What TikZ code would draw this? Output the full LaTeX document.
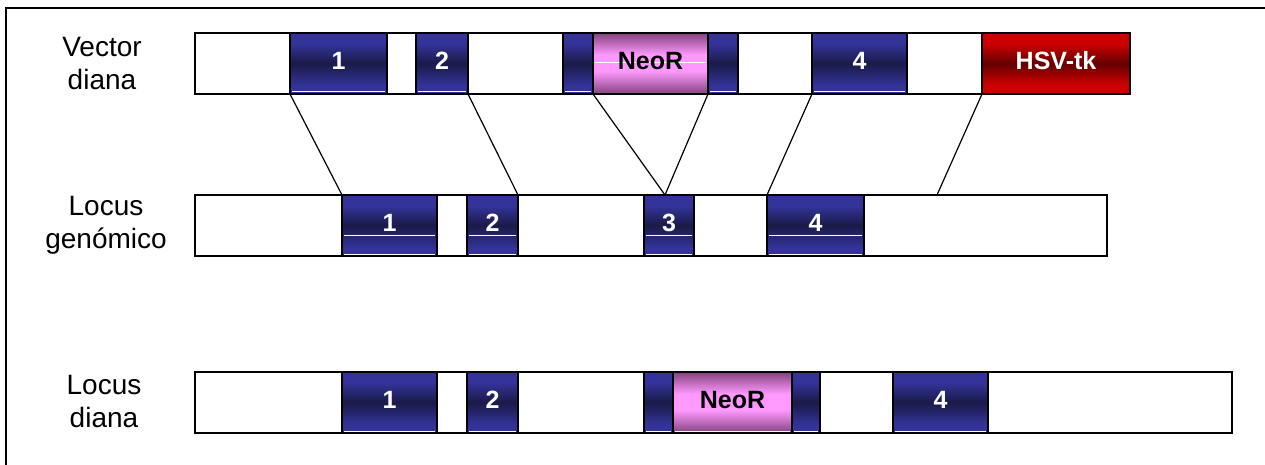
\documentclass[tikz,border=0pt]{standalone}
\usepackage{fontspec}
\setmainfont{Liberation Sans}
\definecolor{blueL}{RGB}{51,51,153}
\definecolor{blueD}{RGB}{26,26,72}
\definecolor{pinkL}{RGB}{255,153,255}
\definecolor{pinkD}{RGB}{132,66,126}
\definecolor{redL}{RGB}{204,0,0}
\definecolor{redD}{RGB}{100,0,0}
\pgfdeclareverticalshading{exonsh}{100bp}{color(0bp)=(blueL); color(25bp)=(blueL); color(32bp)=(blueL); color(50bp)=(blueD); color(66bp)=(blueL); color(75bp)=(blueL); color(100bp)=(blueL)}
\pgfdeclareverticalshading{neosh}{100bp}{color(0bp)=(pinkD); color(25bp)=(pinkD); color(44bp)=(pinkL); color(57bp)=(pinkL); color(75bp)=(pinkD); color(100bp)=(pinkD)}
\pgfdeclareverticalshading{hsvsh}{100bp}{color(0bp)=(redL); color(25bp)=(redL); color(33bp)=(redL); color(50bp)=(redD); color(66bp)=(redL); color(75bp)=(redL); color(100bp)=(redL)}
\tikzset{
  seg/.style={draw=black, line width=1.5pt, inner sep=0pt, outer sep=0pt,
    minimum height=61pt, anchor=north west, text depth=6pt,
    font=\fontsize{25}{25}\selectfont\bfseries},
  back/.style={seg, fill=white},
  exon/.style={seg, shade, shading=exonsh, text=white},
  neo/.style={seg, shade, shading=neosh, text=black},
  hsv/.style={seg, shade, shading=hsvsh, text=white},
  hl/.style={white, line width=1pt},
  midline/.style={path picture={\draw[hl] ([xshift=2pt,yshift=1pt]path picture bounding box.west) -- ([xshift=-2pt,yshift=1pt]path picture bounding box.east);}},
  conn/.style={black, line width=1.2pt},
  lab/.style={align=center, font=\fontsize{28}{33}\selectfont, inner sep=0pt},
}
\newcommand\segm[6]{\node[#5, minimum width={#3-#2}] (#1) at (#2,#4) {#6};}
\begin{document}
\begin{tikzpicture}[x=1pt,y=-1pt]
\useasboundingbox (0,0) rectangle (1265,465);
\fill[white] (0,0) rectangle (1265,465);
\draw[line width=2pt] (6,465) -- (6,8) -- (1265,8);

% labels
\node[lab] (lv) at (102,64) {Vector\\diana};
\node[lab] (lg) at (106,225) {Locus\\genómico};
\node[lab] (lt) at (104,402) {Locus\\diana};

% row 1: vector diana
\segm{vb}{195}{982}{33}{back}{}
\segm{v1}{290}{387}{33}{exon}{1}
\segm{v2}{416}{468}{33}{exon}{2}
\segm{vdl}{563}{593}{33}{exon}{}
\segm{vneo}{593}{708}{33}{neo,midline}{NeoR}
\segm{vdr}{708}{738}{33}{exon}{}
\segm{v4}{812}{907}{33}{exon}{4}
\segm{vhsv}{982}{1130}{33}{hsv}{HSV-tk}
\foreach \n in {v1,v2,v4,vdl,vdr}
  \draw[hl] ([xshift=2pt,yshift=2pt]\n.south west) -- ([xshift=-2pt,yshift=2pt]\n.south east);

% row 2: locus genomico
\segm{gb}{195}{1107}{195}{back}{}
\segm{g1}{342}{437}{195}{exon}{1}
\segm{g2}{467}{518}{195}{exon}{2}
\segm{g3}{644}{694}{195}{exon}{3}
\segm{g4}{767}{864}{195}{exon}{4}
\foreach \n in {g1,g2,g3,g4}{
  \draw[hl] ([xshift=2pt,yshift=2pt]\n.south west) -- ([xshift=-2pt,yshift=2pt]\n.south east);
  \draw[hl] ([xshift=2pt,yshift=21pt]\n.south west) -- ([xshift=-2pt,yshift=21pt]\n.south east);
}

% row 3: locus diana
\segm{tb}{195}{1232}{372}{back}{}
\segm{t1}{342}{437}{372}{exon}{1}
\segm{t2}{467}{518}{372}{exon}{2}
\segm{tdl}{644}{673}{372}{exon}{}
\segm{tneo}{673}{792}{372}{neo}{NeoR}
\segm{tdr}{792}{820}{372}{exon}{}
\segm{t4}{893}{988}{372}{exon}{4}
\foreach \n in {t1,t2,t4,tdl,tneo,tdr}
  \draw[hl] ([xshift=2pt,yshift=1.5pt]\n.south west) -- ([xshift=-2pt,yshift=1.5pt]\n.south east);

% connectors
\coordinate (apex) at (665,195);
\coordinate (hsvend) at (937,195);
\draw[conn] (v1.south west) -- (g1.north west);
\draw[conn] (v2.south east) -- (g2.north east);
\draw[conn] (vneo.south west) -- (apex);
\draw[conn] (vneo.south east) -- (apex);
\draw[conn] (v4.south west) -- (g4.north west);
\draw[conn] (vhsv.south west) -- (hsvend);
\end{tikzpicture}
\end{document}
